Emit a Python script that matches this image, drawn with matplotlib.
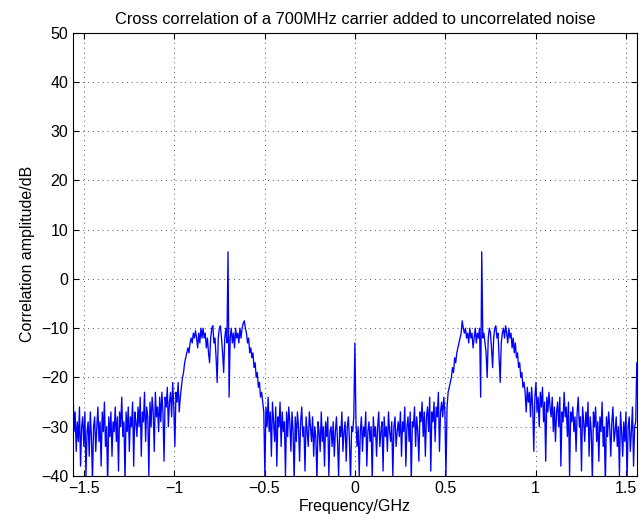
import matplotlib
matplotlib.use('Agg')
import matplotlib.pyplot as plt
import numpy as np

plt.rcParams['font.family'] = ['Liberation Sans', 'DejaVu Sans']

# correlation amplitude (dB), -1.56 .. 1.56 GHz in 0.006 GHz steps
neg_half = [
    -22, -31, -27, -35, -29, -33, -26, -38, -30, -28, -34, -27, -40, -31, -29, -36, -27, -32, -41, -30,
    -28, -35, -30, -26, -33, -29, -38, -27, -31, -25, -34, -30, -42, -28, -32, -27, -36, -29, -31, -26,
    -33, -28, -39, -27, -30, -24, -32, -29, -41, -27, -31, -26, -35, -28, -30, -25, -38, -27, -29, -32,
    -26, -30, -24, -36, -27, -29, -23, -33, -26, -28, -40, -25, -30, -24, -27, -35, -23, -28, -26, -31,
    -24, -29, -23, -27, -37, -24, -26, -22, -30, -25, -23, -28, -21, -26, -34, -23, -25, -21, -27, -24,
    -22, -20, -19, -17, -16, -15, -14, -15, -13, -12, -13, -11, -12, -10.5, -12, -14, -11, -13, -10, -12,
    -10, -12, -11, -14, -12, -15, -17, -12, -10, -9.5, -13, -12, -16, -21, -12, -10, -9.5, -12, -15, -19,
    -12, -10, -13, 5.5, -24, -12, -10, -13, -11, -14, -10, -12, -11, -13, -10, -12, -10, -9, -8.5, -10,
    -11, -13, -12, -15, -14, -16, -15, -18, -17, -20, -19, -22, -21, -24, -23, -25, -27, -40, -26, -30,
    -24, -31, -27, -36, -25, -29, -33, -26, -38, -28, -30, -25, -34, -27, -31, -29, -40, -27, -32, -26,
    -29, -35, -27, -31, -41, -28, -33, -27, -30, -37, -29, -26, -32, -30, -39, -28, -31, -34, -27, -30,
    -33, -28, -36, -30, -32, -41, -29, -31, -35, -27, -33, -30, -38, -29, -32, -28, -40, -31, -30, -34,
    -29, -36, -31, -28, -33, -40, -30, -32, -27, -35, -31, -29, -37, -30, -28, -33, -41, -30, -31, -28,
]
dc_value = [-13]
pos_half = [
    -29, -34, -30, -40, -31, -28, -35, -30, -32, -27, -38, -31, -29, -33, -30, -41, -28, -32, -30, -36,
    -30, -27, -34, -31, -29, -39, -28, -32, -30, -35, -27, -31, -33, -29, -40, -30, -28, -34, -31, -29,
    -32, -27, -36, -29, -31, -26, -38, -30, -28, -33, -27, -41, -29, -30, -26, -34, -28, -31, -37, -27,
    -29, -25, -32, -27, -36, -28, -26, -31, -24, -39, -27, -29, -25, -33, -26, -28, -23, -35, -27, -25,
    -28, -24, -27, -40, -26, -23, -22, -21, -20, -18, -19, -16, -17, -15, -14, -13, -12, -11, -8.5, -10,
    -11, -10, -12, -11, -13, -10, -12, -11, -14, -12, -10, -13, -11, -12, -10, -24, 5.5, -12, -11, -13,
    -15, -20, -12, -10, -11, -14, -18, -12, -10, -9.5, -12, -11, -16, -21, -13, -11, -10, -12, -9.5, -11,
    -13, -10, -12, -11, -14, -12, -15, -13, -16, -15, -18, -17, -20, -19, -22, -21, -23, -27, -22, -25,
    -23, -28, -22, -26, -35, -24, -21, -27, -24, -30, -23, -26, -22, -29, -25, -37, -24, -27, -23, -26,
    -28, -24, -31, -26, -33, -27, -25, -30, -24, -38, -27, -29, -23, -28, -26, -32, -25, -40, -27, -29,
    -26, -31, -28, -35, -27, -24, -30, -28, -39, -26, -29, -33, -27, -30, -25, -36, -28, -31, -41, -27,
    -30, -26, -33, -29, -37, -28, -31, -25, -34, -30, -42, -28, -32, -27, -30, -36, -29, -26, -33, -31,
    -28, -34, -30, -40, -27, -31, -36, -29, -33, -27, -41, -30, -28, -35, -31, -26, -38, -30, -29, -17,
]
corr_db = np.array(neg_half + dc_value + pos_half)
freq_ghz = np.linspace(-1.56, 1.56, len(corr_db))

xticks = [-1.5, -1, -0.5, 0, 0.5, 1, 1.5]
yticks = list(range(-40, 51, 10))

fig = plt.figure(figsize=(6.4, 5.21), dpi=100)
ax = fig.add_axes([0.114, 0.0864, 0.881, 0.851])
ax.plot(freq_ghz, corr_db, color='blue', linewidth=0.95)

ax.set_xlim(-1.56, 1.56)
ax.set_ylim(-40, 50)
ax.set_xticks(xticks)
ax.set_xticklabels(['\u22121.5', '\u22121', '\u22120.5', '0', '0.5', '1', '1.5'])
ax.set_yticks(yticks)
ax.grid(True, linestyle=(0, (1, 4)), color='#555555', linewidth=0.7)
ax.tick_params(direction='in', top=True, right=True, labelsize=11.5, length=4)
for s in ax.spines.values():
    s.set_linewidth(0.8)

ax.set_xlabel('Frequency/GHz', fontsize=11.5, labelpad=2)
ax.set_ylabel('Correlation amplitude/dB', fontsize=11.5, labelpad=4)
ax.set_title('Cross correlation of a 700MHz carrier added to uncorrelated noise', fontsize=11.8)

plt.savefig('out.png', dpi=100)
